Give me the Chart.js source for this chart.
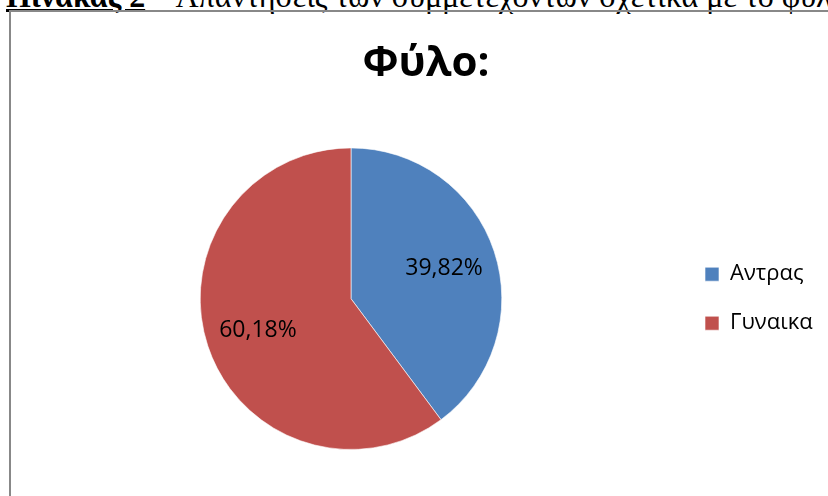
<!DOCTYPE html>
<html lang="el">
<head>
<meta charset="utf-8">
<title>Φύλο</title>
<script src="https://cdn.jsdelivr.net/npm/chart.js@4.4.1/dist/chart.umd.min.js"></script>
<style>
  html, body { margin: 0; padding: 0; background: #fff; }
  body { width: 828px; height: 496px; overflow: hidden; position: relative; }
  .caption {
    position: absolute; left: 6px; top: -20px;
    font-family: "Liberation Serif", "Times New Roman", serif;
    font-size: 32px; line-height: 32px; white-space: nowrap; color: #000;
  }
  .caption b { text-decoration: underline; }
  .frame {
    position: absolute; left: 9px; top: 10px; width: 900px; height: 600px;
    border-left: 2px solid #888; border-top: 2px solid #888;
  }
  #chart { position: absolute; left: 0; top: 0; }
</style>
</head>
<body>
<div class="caption"><b>Πίνακας 2</b> – Απαντήσεις των συμμετεχόντων σχετικά με το φύλο</div>
<div class="frame"></div>
<canvas id="chart" width="828" height="496"></canvas>
<script>
// Κατανομή ερωτηθέντων ανά φύλο (%)
const categories = ['Αντρας', 'Γυναικα'];
const percentages = [39.82, 60.18];
const sliceColors = ['#4F81BD', '#C0504D'];

const LEGEND_WIDTH = 150;

// Ετικέτες ποσοστών μέσα στις φέτες
const sliceLabels = {
  id: 'sliceLabels',
  afterDatasetsDraw(chart) {
    const ctx = chart.ctx;
    const meta = chart.getDatasetMeta(0);
    ctx.save();
    ctx.font = '23px "Open Sans", sans-serif';
    ctx.fillStyle = '#000';
    ctx.textAlign = 'center';
    ctx.textBaseline = 'middle';
    meta.data.forEach((arc, i) => {
      const p = arc.getProps(['x', 'y', 'startAngle', 'endAngle', 'outerRadius'], true);
      const mid = (p.startAngle + p.endAngle) / 2;
      const r = p.outerRadius * 0.65;
      const text = percentages[i].toFixed(2).replace('.', ',') + '%';
      ctx.fillText(text, p.x + Math.cos(mid) * r, p.y + Math.sin(mid) * r + 1);
    });
    ctx.restore();
  }
};

// Σταθερό πλάτος υπομνήματος
const legendWidth = {
  id: 'legendWidth',
  beforeLayout(chart) {
    const legend = chart.legend;
    if (!legend || legend._fixedFit) return;
    const fit = legend.fit;
    legend.fit = function () {
      fit.call(this);
      this.width = LEGEND_WIDTH;
    };
    legend._fixedFit = true;
  }
};

new Chart(document.getElementById('chart'), {
  type: 'pie',
  data: {
    labels: categories,
    datasets: [{
      data: percentages,
      backgroundColor: sliceColors,
      borderColor: 'rgba(255,255,255,0.6)',
      borderWidth: 1,
      hoverOffset: 0
    }]
  },
  options: {
    responsive: false,
    animation: false,
    layout: { padding: { left: 24, right: 0, top: 0, bottom: 46 } },
    plugins: {
      title: {
        display: true,
        text: 'Φύλο:',
        color: '#000',
        font: { family: '"Open Sans", sans-serif', size: 42, weight: 'bold' },
        padding: { top: 39, bottom: 58 }
      },
      legend: {
        position: 'right',
        fullSize: false,
        labels: {
          color: '#000',
          font: { family: '"Open Sans", sans-serif', size: 22 },
          boxWidth: 14,
          boxHeight: 14,
          padding: 27
        }
      },
      tooltip: { enabled: false }
    }
  },
  plugins: [sliceLabels, legendWidth]
});
</script>
</body>
</html>
